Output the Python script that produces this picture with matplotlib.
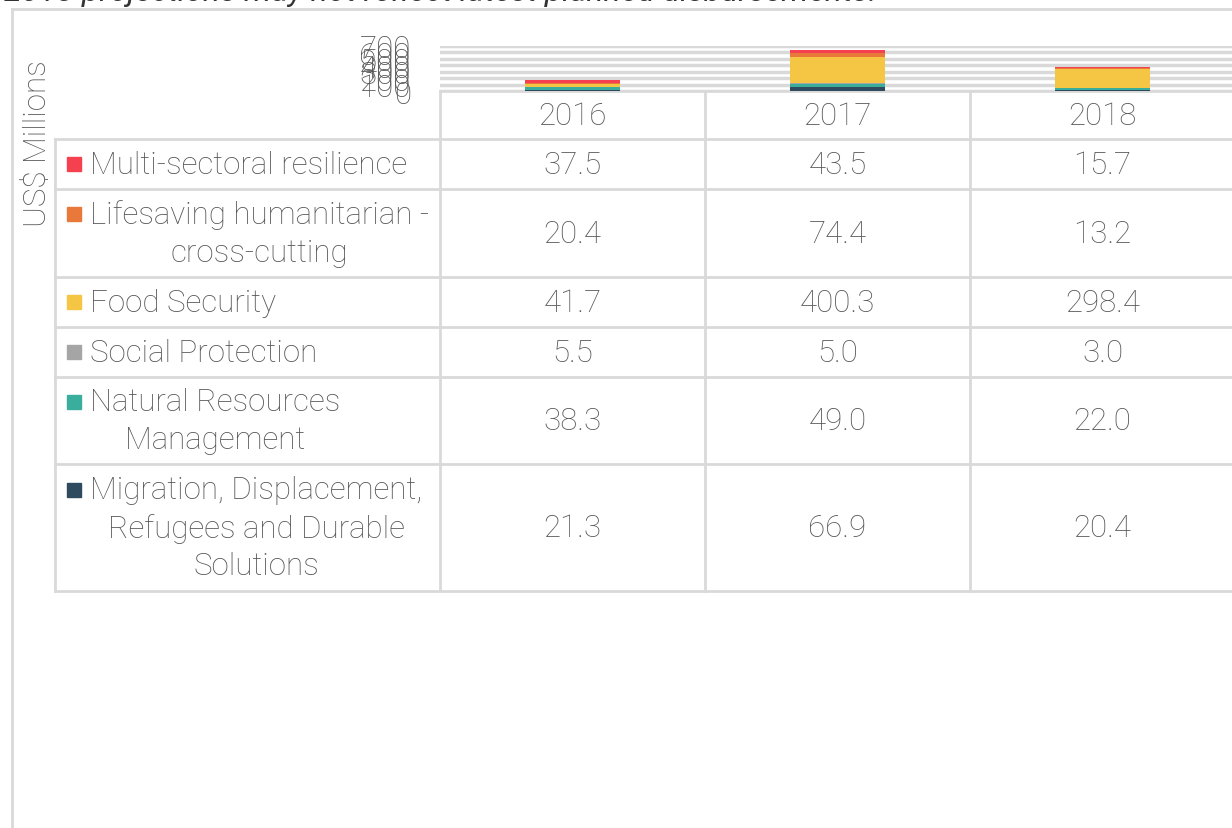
import matplotlib.pyplot as plt
import numpy as np

# data (US$ millions)
years = ['2016', '2017', '2018']
sectors = ['Multi-sectoral resilience',
           'Lifesaving humanitarian -\ncross-cutting',
           'Food Security',
           'Social Protection',
           'Natural Resources\nManagement',
           'Migration, Displacement,\nRefugees and Durable\nSolutions']
multi_sectoral = [37.5, 43.5, 15.7]
lifesaving = [20.4, 74.4, 13.2]
food_security = [41.7, 400.3, 298.4]
social_protection = [5.5, 5.0, 3.0]
natural_resources = [38.3, 49.0, 22.0]
migration = [21.3, 66.9, 20.4]
colors = ['#F5404F', '#E8793A', '#F5C643', '#A5A5A5', '#3AAE9C', '#2E4A5E']
yticks = [0, 100, 200, 300, 400, 500, 600, 700]

series = [multi_sectoral, lifesaving, food_security, social_protection,
          natural_resources, migration]

W, H = 1232, 829
txt = '#555555'
grid = '#D9D9D9'
fam = ['Roboto', 'DejaVu Sans']
fw = 'light'
fs = 22.5

fig = plt.figure(figsize=(W / 100, H / 100), dpi=100)

# overlay in pixel coordinates for table and frame
ov = fig.add_axes([0, 0, 1, 1])
ov.set_xlim(0, W)
ov.set_ylim(H, 0)
ov.axis('off')

# chart frame
ov.plot([12, 12], [10, H + 5], color=grid, lw=2)
ov.plot([12, W + 5], [10, 10], color=grid, lw=2)

# caption (clipped at top)
ov.text(4, 1, '2018 projections may not reflect latest planned disbursements.',
        fontsize=23, style='italic', color='#333333', family=fam,
        ha='left', va='baseline')

# y-axis title
ov.text(38, 144, 'US$ Millions', rotation=90, fontsize=fs, color=txt,
        family=fam, fontweight=fw, ha='center', va='center')

# bar axes
px_l, px_r, px_t, px_b = 440, 1235, 47, 92
ax = fig.add_axes([px_l / W, 1 - px_b / H, (px_r - px_l) / W, (px_b - px_t) / H])
x = np.arange(len(years))
bottom = np.zeros(len(years))
for vals, c in zip(series[::-1], colors[::-1]):
    ax.bar(x, vals, width=0.36, bottom=bottom, color=c, zorder=3)
    bottom += np.array(vals)
ax.set_xlim(-0.5, 2.5)
ax.set_ylim(0, 700)
ax.set_yticks(yticks)
ax.set_yticklabels([str(t) for t in yticks], fontsize=fs, color=txt,
                   family=fam, fontweight=fw)
ax.set_xticks([])
ax.tick_params(axis='y', length=0, pad=21)
ax.grid(axis='y', color=grid, lw=2.5, zorder=0)
for s in ax.spines.values():
    s.set_visible(False)
ax.patch.set_alpha(0)

# table
col_x = [440, 705, 970, 1235]
row_y = [140, 190, 278, 328, 378, 465, 592]
lw = 2
for cx in col_x:
    ov.plot([cx, cx], [92, row_y[-1]], color=grid, lw=lw)
ov.plot([55, 55], [row_y[0], row_y[-1]], color=grid, lw=lw)
for ry in row_y:
    ov.plot([55, W + 5], [ry, ry], color=grid, lw=lw)
ov.plot([440, W + 5], [92, 92], color=grid, lw=lw)

for j, yr in enumerate(years):
    ov.text((col_x[j] + col_x[j + 1]) / 2, 116, yr, fontsize=fs, color=txt,
            family=fam, fontweight=fw, ha='center', va='center')

line_h = 38
for i, (name, vals, c) in enumerate(zip(sectors, series, colors)):
    yc = (row_y[i] + row_y[i + 1]) / 2
    nlines = name.count('\n') + 1
    first = yc - (nlines - 1) * line_h / 2
    ov.add_patch(plt.Rectangle((67, first - 7), 14, 14, color=c))
    ov.text(90, yc, name, fontsize=fs, color=txt, family=fam,
            fontweight=fw, ha='left', va='center',
            multialignment='center', linespacing=1.38)
    for j, v in enumerate(vals):
        ov.text((col_x[j] + col_x[j + 1]) / 2, yc, f'{v:.1f}', fontsize=fs,
                color=txt, family=fam, fontweight=fw,
                ha='center', va='center')

fig.savefig('out.png', dpi=100)
